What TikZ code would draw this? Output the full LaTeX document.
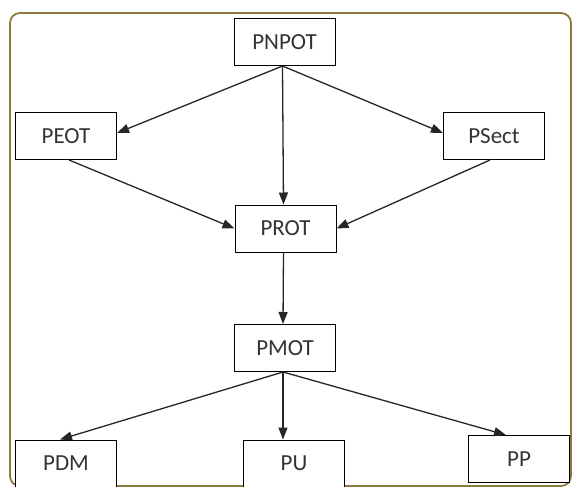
\documentclass[tikz,border=0pt]{standalone}
\usepackage{fontspec}
\setmainfont{Carlito}
\usetikzlibrary{arrows.meta,calc}
\definecolor{framecol}{HTML}{8C7B3C}
\begin{document}
\begin{tikzpicture}[x=1pt,y=-1pt,
  box/.style={draw=black,line width=1pt,fill=white,minimum width=101pt,minimum height=47pt,inner sep=0pt,font=\fontsize{23}{27}\selectfont,text=black!80},
  conn/.style={draw=black!85,line width=1.3pt,-{Triangle[length=12pt,width=9pt]}}]
\useasboundingbox (0,0) rectangle (573,487);
\fill[white] (0,0) rectangle (573,487);
\draw[framecol,line width=1.8pt,rounded corners=10pt] (10,13) rectangle (571,486);
\node[box] (PNPOT) at (284.5,42) {PNPOT};
\node[box] (PEOT) at (66,136) {PEOT};
\node[box] (PSect) at (494,136) {PSect};
\node[box] (PROT) at (285.5,228.5) {PROT};
\node[box] (PMOT) at (285,348) {PMOT};
\node[box] (PDM) at (66,463.5) {PDM};
\node[box] (PU) at (294,463.5) {PU};
\node[box] (PP) at (519,459) {PP};
\coordinate (s1) at ($(PNPOT.south)+(-2,0)$);
\coordinate (s2) at ($(PMOT.south)+(-2,0)$);
\coordinate (puin) at (s2 |- PU.north);
\draw[conn] (s1) -- ($(PEOT.east)+(0,-3)$);
\draw[conn] (s1) -- ($(PSect.west)+(0,-3)$);
\draw[conn] (s1) -- ($(PROT.north)+(-2,0)$);
\draw[conn] ($(PEOT.south)+(3,0)$) -- (PROT.west);
\draw[conn] ($(PSect.south)+(-4,0)$) -- (PROT.east);
\draw[conn] ($(PROT.south)+(-2,0)$) -- ($(PMOT.north)+(-2,0)$);
\draw[conn] (s2) -- ($(PDM.north)+(-6,0)$);
\draw[conn] (s2) -- (puin);
\draw[conn] (s2) -- ($(PP.north)+(-13,0)$);
\end{tikzpicture}
\end{document}
